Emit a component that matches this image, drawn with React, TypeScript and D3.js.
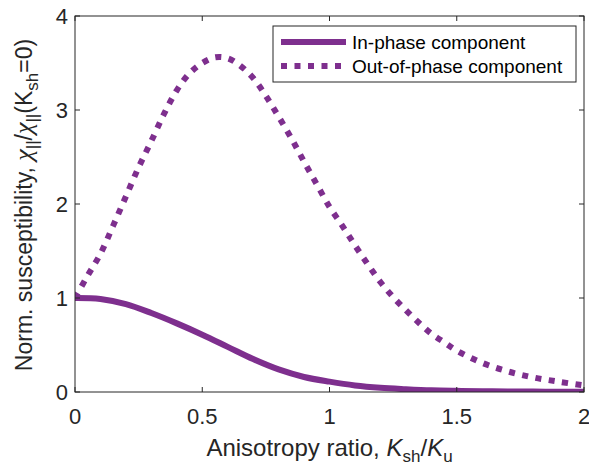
import React from "react";
import * as d3 from "d3";

const xTicks = [0, 0.5, 1, 1.5, 2];
const yTicks = [0, 1, 2, 3, 4];
const xTickLabels = ["0", "0.5", "1", "1.5", "2"];
const yTickLabels = ["0", "1", "2", "3", "4"];

const inPhaseX = [0, 0.1, 0.2, 0.3, 0.4, 0.5, 0.6, 0.7, 0.8, 0.9, 1.0, 1.1, 1.2, 1.3, 1.4, 1.5, 1.6, 1.7, 1.8, 1.9, 2.0];
const inPhaseY = [1.0, 0.99, 0.935, 0.84, 0.73, 0.61, 0.48, 0.35, 0.24, 0.16, 0.11, 0.07, 0.045, 0.03, 0.018, 0.012, 0.008, 0.005, 0.004, 0.003, 0.002];

const outPhaseX = [0, 0.05, 0.1, 0.15, 0.2, 0.25, 0.3, 0.35, 0.4, 0.45, 0.5, 0.55, 0.6, 0.65, 0.7, 0.75, 0.8, 0.85, 0.9, 0.95, 1.0, 1.05, 1.1, 1.15, 1.2, 1.25, 1.3, 1.35, 1.4, 1.45, 1.5, 1.6, 1.7, 1.8, 1.9, 2.0];
const outPhaseY = [1.0, 1.24, 1.47, 1.77, 2.08, 2.39, 2.67, 2.96, 3.21, 3.39, 3.5, 3.56, 3.55, 3.47, 3.34, 3.15, 2.93, 2.7, 2.45, 2.21, 1.97, 1.77, 1.56, 1.36, 1.17, 1.01, 0.87, 0.74, 0.62, 0.53, 0.44, 0.31, 0.22, 0.155, 0.11, 0.07];

const seriesNames = ["In-phase component", "Out-of-phase component"];

const COLOR = "#7E2F8E";
const AX = "#262626";
const FONT = "'Liberation Sans', Arial, Helvetica, sans-serif";
const SERIF = "'Liberation Serif', 'Times New Roman', serif";

export default function App() {
  const W = 589, H = 468;
  const left = 75, right = 584, top = 16, bottom = 392;
  const x = d3.scaleLinear().domain([0, 2]).range([left, right]);
  const y = d3.scaleLinear().domain([0, 4]).range([bottom, top]);

  const line = d3
    .line<[number, number]>()
    .x((d) => x(d[0]))
    .y((d) => y(d[1]))
    .curve(d3.curveCatmullRom.alpha(0.5));

  const inData: [number, number][] = inPhaseX.map((v, i) => [v, inPhaseY[i]]);
  const outData: [number, number][] = outPhaseX.map((v, i) => [v, outPhaseY[i]]);

  const tickLen = 5;

  return (
    <svg width={W} height={H} style={{ position: "absolute", left: 0, top: 0, background: "#fff" }}>
      <rect x={0} y={0} width={W} height={H} fill="#fff" />
      <defs>
        <clipPath id="plotclip">
          <rect x={left} y={top} width={right - left} height={bottom - top} />
        </clipPath>
      </defs>
      <g clipPath="url(#plotclip)">
        <path d={line(inData) || ""} fill="none" stroke={COLOR} strokeWidth={6} />
        <path d={line(outData) || ""} fill="none" stroke={COLOR} strokeWidth={6} strokeDasharray="6 7.5" />
      </g>
      <rect x={left} y={top} width={right - left} height={bottom - top} fill="none" stroke={AX} strokeWidth={1} />
      {xTicks.map((t, i) => (
        <g key={"xt" + i}>
          <line x1={x(t)} x2={x(t)} y1={bottom} y2={bottom - tickLen} stroke={AX} />
          <line x1={x(t)} x2={x(t)} y1={top} y2={top + tickLen} stroke={AX} />
          <text x={x(t)} y={424} textAnchor="middle" fontFamily={FONT} fontSize={22} fill={AX}>
            {xTickLabels[i]}
          </text>
        </g>
      ))}
      {yTicks.map((t, i) => (
        <g key={"yt" + i}>
          <line x1={left} x2={left + tickLen} y1={y(t)} y2={y(t)} stroke={AX} />
          <line x1={right} x2={right - tickLen} y1={y(t)} y2={y(t)} stroke={AX} />
          <text x={68} y={y(t) + 8} textAnchor="end" fontFamily={FONT} fontSize={22} fill={AX}>
            {yTickLabels[i]}
          </text>
        </g>
      ))}
      <text x={(left + right) / 2} y={456} textAnchor="middle" fontFamily={FONT} fontSize={24} fill={AX}>
        <tspan>Anisotropy ratio, </tspan>
        <tspan fontStyle="italic">K</tspan>
        <tspan fontSize={17} dy={6}>sh</tspan>
        <tspan dy={-6}>/</tspan>
        <tspan fontStyle="italic">K</tspan>
        <tspan fontSize={17} dy={6}>u</tspan>
      </text>
      <text
        transform={`translate(32, 205) rotate(-90)`}
        textAnchor="middle"
        fontFamily={FONT}
        fontSize={23}
        fill={AX}
      >
        <tspan>Norm. susceptibility, </tspan>
        <tspan fontFamily={SERIF} fontStyle="italic" fontSize={26}>χ</tspan>
        <tspan fontSize={17} dy={6}>||</tspan>
        <tspan dy={-6}>/</tspan>
        <tspan fontFamily={SERIF} fontStyle="italic" fontSize={26}>χ</tspan>
        <tspan fontSize={17} dy={6}>||</tspan>
        <tspan dy={-6}>(K</tspan>
        <tspan fontSize={17} dy={6}>sh</tspan>
        <tspan dy={-6}>=0)</tspan>
      </text>
      <g>
        <rect x={273} y={26} width={303} height={56} fill="#fff" stroke={AX} strokeWidth={1} />
        <line x1={281} x2={346} y1={42} y2={42} stroke={COLOR} strokeWidth={6} />
        <line x1={281} x2={346} y1={66} y2={66} stroke={COLOR} strokeWidth={6} strokeDasharray="6 7.5" />
        <text x={352} y={49} fontFamily={FONT} fontSize={19} fill="#000">
          {seriesNames[0]}
        </text>
        <text x={352} y={73} fontFamily={FONT} fontSize={19} fill="#000">
          {seriesNames[1]}
        </text>
      </g>
    </svg>
  );
}
